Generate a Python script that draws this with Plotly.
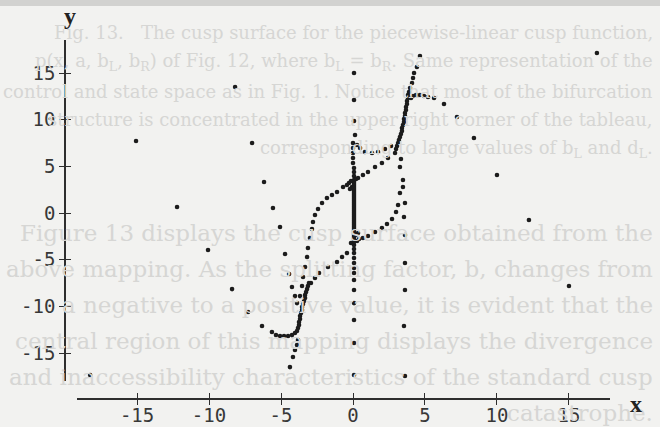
import plotly.graph_objects as go

# ---------------- data ----------------
x_outer = [16.94, -15.07, -18.26, -8.19, -7.01, -6.18, -5.56, -12.22, -10.07, -8.40, -7.29, -6.32, -5.63,
           12.22, 15.00, 10.00, 8.40, 7.22, 6.32, 5.63, -5.07, -4.72, -4.44, -4.24, -4.03, -3.89]
y_outer = [17.15, 7.72, -17.36, 13.50, 7.50, 3.32, 0.54, 0.64, -3.97, -8.15, -10.61, -12.11, -12.75,
           -0.75, -7.82, 4.07, 8.04, 10.29, 11.68, 12.33, -1.50, -4.39, -6.54, -7.93, -8.90, -9.65]

x_right = [3.26, 3.47, 3.26, 3.61, 3.54, 3.61, 3.61, 3.61, 3.54, 3.61, 3.33, 3.47]
y_right = [4.93, 3.54, 2.14, 1.07, -0.43, -2.36, -5.36, -8.25, -12.11, -17.47, 5.79, 2.79]

x_mid = [0.07, 0.07, 0.07, 0.14, 0.0, 0.0, 0.0, 0.0, 0.0, 0.07, 0.07, 0.07,
         0.07, 0.07, 0.07, 0.07, 0.07, 0.07, 0.07, 0.07, 0.07, 0.07, 0.07, 0.07, 0.07]
y_mid = [15.01, 12.11, 9.86, 8.36, 7.50, 6.97, 6.43, 5.89, 5.36, 4.82, 4.39, 3.97,
         -3.43, -3.86, -4.29, -4.82, -5.36, -5.89, -6.43, -7.18, -8.25, -9.65, -11.47, -13.93, -17.36]

x_core = [0.07] * 32
y_core = [3.54, 3.32, 3.11, 2.89, 2.68, 2.47, 2.25, 2.04, 1.82, 1.61, 1.39, 1.18, 0.96, 0.75, 0.54, 0.32,
          0.11, -0.11, -0.32, -0.54, -0.75, -0.96, -1.18, -1.39, -1.61, -1.82, -2.04, -2.25, -2.47, -2.68,
          -2.89, -3.11]

x_junc = [-0.14, -0.28, -0.42, 0.21, -0.07, -0.21, 0.28, 0.42, -0.14, 0.21, 0.35]
y_junc = [3.43, 3.22, 3.00, 3.64, 2.79, 2.57, -3.00, -2.79, -3.22, -2.36, -2.14]

x_chain = [0.28, 0.49, 0.83, 1.32, 1.74, 2.22, 2.64,
           -0.42, -0.76, -1.11, -1.74, -2.36, -2.64, -2.92,
           2.92, 2.43, 2.01, 1.53, 1.04, 0.69, 0.35,
           0.69, 1.04, 1.53, 2.01, 2.36, 2.71, 2.99, 3.13,
           -0.69, -1.11, -1.46, -1.81, -2.15, -2.43, -2.64, -2.78, -2.85, -2.99, -3.13, -3.19, -3.33,
           -3.47, -3.54, -3.68]
y_chain = [7.29, 6.97, 6.54, 6.43, 6.54, 6.86, 7.18,
           -4.29, -4.72, -5.25, -5.79, -6.43, -6.97, -7.50,
           6.43, 5.89, 5.36, 4.93, 4.39, 4.07, 3.75,
           -2.68, -2.47, -2.04, -1.61, -1.18, -0.64, 0.11, 0.86,
           2.79, 2.25, 1.93, 1.61, 1.07, 0.43, -0.21, -0.96, -1.71, -2.68, -3.75, -4.72, -5.79,
           -6.86, -7.82, -8.90]

x_upper = [4.65, 4.44, 4.24, 4.17, 4.10, 3.96,
           3.89, 3.82, 3.82, 3.75, 3.75, 3.68, 3.68, 3.61, 3.61, 3.54, 3.54, 3.47, 3.40, 3.40, 3.33,
           3.26, 3.19, 3.13, 3.06, 2.99,
           4.03, 4.17, 4.38, 4.65, 4.93, 5.21]
y_upper = [16.83, 15.65, 15.01, 14.47, 13.93, 13.40,
           12.97, 12.65, 12.33, 12.00, 11.68, 11.36, 11.04, 10.72, 10.40, 10.07, 9.75, 9.43, 9.11, 8.79,
           8.47, 8.15, 7.82, 7.50, 7.18, 6.86,
           12.33, 12.54, 12.65, 12.65, 12.54, 12.43]

x_lower = [-3.06, -3.13, -3.19, -3.26, -3.33, -3.33, -3.40, -3.47, -3.54, -3.54, -3.61, -3.68, -3.68,
           -3.75, -3.75, -3.82, -3.89,
           -4.03, -4.24, -4.51, -4.79, -5.07, -5.35,
           -3.82, -3.89, -4.03, -4.17, -4.38]
y_lower = [-7.50, -7.82, -8.15, -8.47, -8.79, -9.11, -9.43, -9.75, -10.07, -10.40, -10.72, -11.04, -11.36,
           -11.68, -12.00, -12.33, -12.65,
           -12.86, -13.08, -13.18, -13.18, -13.18, -13.08,
           -13.61, -14.15, -14.68, -15.43, -16.51]

tick_vals = [-15, -10, -5, 0, 5, 10, 15]
tick_text = ["-15", "-10", "-5", "0", "5", "10", "15"]

caption_lines = [
    "Fig. 13.   The cusp surface for the piecewise-linear cusp function,",
    "p(x, a, b<sub>L</sub>, b<sub>R</sub>) of Fig. 12, where b<sub>L</sub> = b<sub>R</sub>. Same representation of the",
    "control and state space as in Fig. 1. Notice that most of the bifurcation",
    "structure is concentrated in the upper right corner of the tableau,",
    "corresponding to large values of b<sub>L</sub> and d<sub>L</sub>.",
]
body_lines = [
    "Figure 13 displays the cusp surface obtained from the",
    "above mapping. As the splitting factor, b, changes from",
    "a negative to a positive value, it is evident that the",
    "central region of this mapping displays the divergence",
    "and inaccessibility characteristics of the standard cusp",
    "catastrophe.",
]

# ---------------- figure ----------------
W, H = 660, 427
BG = "#f2f2f0"
INK = "#1c1c1c"
AX = "#2e2e2e"
GHOST = "#d6d6d4"

fig = go.Figure()
marker = dict(color=INK, size=4.6, line=dict(width=0))
for xs, ys in [(x_outer, y_outer), (x_right, y_right), (x_mid, y_mid), (x_core, y_core),
               (x_junc, y_junc), (x_chain, y_chain), (x_upper, y_upper), (x_lower, y_lower)]:
    fig.add_trace(go.Scatter(x=xs, y=ys, mode="markers", marker=marker, hoverinfo="skip"))
fig.add_trace(go.Scatter(x=[], y=[], xaxis="x2", yaxis="y2", mode="markers"))

xr = [-19.17, 17.85]
yr = [-18.0, 18.54]
xdom = [77 / W, 610 / W]
ydom = [1 - 381 / H, 1 - 40 / H]
xpos = 1 - 399 / H
ypos = 65 / W
tickfont = dict(family="DejaVu Sans Mono", size=19, color="#383838")

common = dict(showgrid=False, zeroline=False, showline=True, linecolor=AX, linewidth=1.6,
              tickcolor=AX, tickwidth=1.4, ticklen=5, tickvals=tick_vals, fixedrange=True,
              automargin=False)
fig.update_layout(
    width=W, height=H,
    margin=dict(l=0, r=0, t=0, b=0, autoexpand=False),
    paper_bgcolor=BG, plot_bgcolor=BG,
    showlegend=False,
    xaxis=dict(domain=xdom, range=xr, anchor="free", position=xpos, ticks="outside",
               ticktext=tick_text, tickfont=tickfont, ticklabelstandoff=-6, **common),
    yaxis=dict(domain=ydom, range=yr, anchor="free", position=ypos, ticks="outside",
               ticktext=tick_text, tickfont=tickfont, **common),
    xaxis2=dict(domain=xdom, range=xr, overlaying="x", anchor="free", position=xpos, ticks="inside",
                showticklabels=False, **common),
    yaxis2=dict(domain=ydom, range=yr, overlaying="y", anchor="free", position=ypos, ticks="inside",
                showticklabels=False, **common),
)

# top grey strip of the scanned page
fig.add_shape(type="rect", xref="paper", yref="paper", x0=0, x1=1, y0=1 - 6 / H, y1=1,
              fillcolor="#d2d2d0", line=dict(width=0), layer="below")

# faint show-through text of the page
for i, t in enumerate(caption_lines):
    py = 33 + 29 * i
    fig.add_annotation(text=t, xref="paper", yref="paper", x=655 / W, y=1 - py / H,
                       xanchor="right", yanchor="middle", showarrow=False,
                       font=dict(family="DejaVu Serif", size=18, color=GHOST))
for i, t in enumerate(body_lines):
    py = 233 + 36 * i
    fig.add_annotation(text=t, xref="paper", yref="paper", x=655 / W, y=1 - py / H,
                       xanchor="right", yanchor="middle", showarrow=False,
                       font=dict(family="DejaVu Serif", size=23, color=GHOST))

# axis names
fig.add_annotation(text="<b>y</b>", xref="paper", yref="paper", x=70 / W, y=1 - 16 / H,
                   xanchor="center", yanchor="middle", showarrow=False,
                   font=dict(family="Liberation Serif", size=24, color="#222222"))
fig.add_annotation(text="<b>x</b>", xref="paper", yref="paper", x=636 / W, y=1 - 404 / H,
                   xanchor="center", yanchor="middle", showarrow=False,
                   font=dict(family="Liberation Serif", size=24, color="#222222"))

fig.write_html("out.html", config={"displayModeBar": False},
               post_script="document.body.style.margin='0';document.body.style.overflow='hidden';")
